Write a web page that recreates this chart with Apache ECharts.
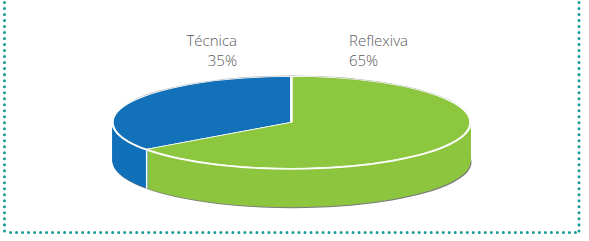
<!DOCTYPE html>
<html>
<head>
<meta charset="utf-8">
<script src="https://cdn.jsdelivr.net/npm/echarts@6/dist/echarts.min.js"></script>
<style>
  html, body { margin: 0; padding: 0; background: #ffffff; width: 589px; height: 241px; overflow: hidden; }
  #pie { position: absolute; left: 0; width: 589px; height: 560px; transform-origin: 0 0; }
  #lab { position: absolute; left: 0; top: 0; width: 589px; height: 241px; }
</style>
</head>
<body>
<div id="pie"></div>
<div id="lab"></div>
<script>
// ---- data ----
const categories = ['Técnica', 'Reflexiva'];
const values = [35, 65];
const percentLabels = ['35%', '65%'];
const sliceColors = ['#1271b9', '#8dc63f'];

// ---- layout of the tilted pie (CSS squash of a flat pie) ----
const K = 0.2565;      // vertical squash
const R = 179;         // radius (unsquashed px)
const CX = 291.5;
const YC = 200;        // centre y inside the unsquashed chart
const TH = 152;        // thickness (unsquashed px)
const TOPY = 122.6;    // screen y of the top-face centre
const pieDiv = document.getElementById('pie');
pieDiv.style.top = (TOPY - YC * K) + 'px';
pieDiv.style.transform = 'scaleY(' + K + ')';

const pieData = categories.map((c, i) => ({ name: c, value: values[i] }));

let zc = 0;
function layer(cy, cx, colorFn) {
  zc += 1;
  return {
    type: 'pie',
    silent: true,
    animation: false,
    clockwise: false,
    startAngle: 90,
    center: [cx, cy],
    radius: [0, R],
    z: zc,
    label: { show: false },
    labelLine: { show: false },
    emphasis: { disabled: true },
    data: pieData.map((d, i) => ({ name: d.name, value: d.value, itemStyle: { color: colorFn(i), borderWidth: 0, borderRadius: 0 } }))
  };
}

const seriesList = [];
seriesList.push(layer(YC - 3, CX, () => 'rgba(90,90,90,0.55)'));          // faint back edge
seriesList.push(layer(YC + TH + 4, CX + 1, () => 'rgba(80,80,80,0.75)')); // bottom/right outline
for (let d = TH; d > 0; d -= 3) {                                          // side walls
  seriesList.push(layer(YC + d, CX, i => sliceColors[i]));
}
seriesList.push(layer(YC + 6, CX, () => '#ffffff'));                       // white rim
const topFace = layer(YC, CX, i => sliceColors[i]);                        // top face
topFace.data.forEach(d => { d.itemStyle.borderColor = '#ffffff'; d.itemStyle.borderWidth = 2.5; });
seriesList.push(topFace);

const pieChart = echarts.init(pieDiv, null, { renderer: 'svg' });
pieChart.setOption({ animation: false, backgroundColor: 'transparent', series: seriesList });

// side-wall separator at the slice boundary (derived from the data)
const total = values.reduce((a, b) => a + b, 0);
const ang = (90 + 360 * values[0] / total) * Math.PI / 180;
const sepX = CX + R * Math.cos(ang);
const sepY = TOPY - R * K * Math.sin(ang);
const thick = TH * K;

// ---- labels & frame ----
const labChart = echarts.init(document.getElementById('lab'), null, { renderer: 'svg' });
const font = { fontFamily: '"Open Sans", "Noto Sans", sans-serif', fontSize: 15, fontWeight: 300, fill: '#5a5a5a' };
const dot = { stroke: '#1a9b98', lineWidth: 3, lineDash: [0.01, 6], lineCap: 'round' };
labChart.setOption({
  animation: false,
  backgroundColor: 'transparent',
  graphic: [
    { type: 'line', shape: { x1: 4.5, y1: 2.5, x2: 4.5, y2: 232.5 }, style: dot, silent: true },
    { type: 'line', shape: { x1: 579, y1: 2.5, x2: 579, y2: 232.5 }, style: dot, silent: true },
    { type: 'line', shape: { x1: 10.5, y1: 232.5, x2: 576, y2: 232.5 }, style: dot, silent: true },
    { type: 'line', shape: { x1: sepX, y1: sepY + 1, x2: sepX, y2: sepY + thick }, style: { stroke: '#ffffff', lineWidth: 1.5 }, silent: true },
    { type: 'text', x: 237, y: 40, style: Object.assign({ text: categories[0], align: 'right', verticalAlign: 'middle' }, font) },
    { type: 'text', x: 237, y: 59.5, style: Object.assign({ text: percentLabels[0], align: 'right', verticalAlign: 'middle' }, font) },
    { type: 'text', x: 349, y: 40, style: Object.assign({ text: categories[1], align: 'left', verticalAlign: 'middle' }, font) },
    { type: 'text', x: 349, y: 59.5, style: Object.assign({ text: percentLabels[1], align: 'left', verticalAlign: 'middle' }, font) }
  ]
});
</script>
</body>
</html>
